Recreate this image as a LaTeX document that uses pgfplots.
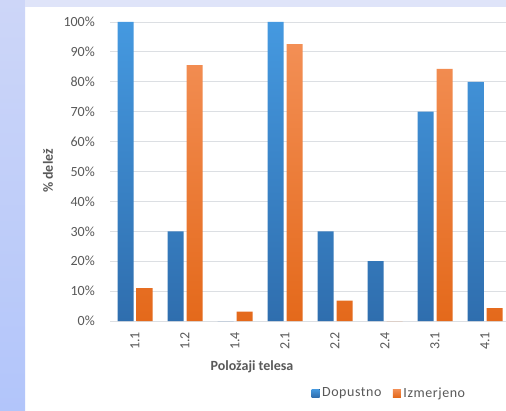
\documentclass[border=0pt]{standalone}
\usepackage{fontspec}
\setmainfont{Carlito}
\usepackage{pgfplots}
\pgfplotsset{compat=1.18}
\definecolor{txt}{HTML}{595959}
\definecolor{gridc}{HTML}{DCDFE3}
\definecolor{bluetop}{HTML}{4599E0}
\definecolor{bluebot}{HTML}{2F6EAE}
\definecolor{orgtop}{HTML}{F38F55}
\definecolor{orgbot}{HTML}{E4691B}
\definecolor{bgtop}{HTML}{CDD6F8}
\definecolor{bgbot}{HTML}{B2C5FA}
\definecolor{bgstrip}{HTML}{DFE4F9}
\begin{document}
\begin{tikzpicture}
\useasboundingbox (0pt,0pt) rectangle (506pt,410pt);
\clip (0pt,0pt) rectangle (506pt,410pt);
\fill[white] (0pt,0pt) rectangle (506pt,410pt);
\shade[top color=bgtop, bottom color=bgbot] (0pt,0pt) rectangle (25pt,410pt);
\fill[bgstrip] (25pt,403pt) rectangle (506pt,410pt);
\begin{axis}[
  at={(110pt,89pt)}, anchor=south west,
  scale only axis, width=400pt, height=299pt,
  xmin=-0.5, xmax=7.5, ymin=0, ymax=100,
  ybar=3pt, bar width=16pt,
  axis line style={draw=none},
  major tick length=0pt,
  ymajorgrids, grid style={gridc, line width=0.8pt},
  xtick={0,1,2,3,4,5,6,7},
  xticklabels={1.1,1.2,1.4,2.1,2.2,2.4,3.1,4.1},
  ytick={0,10,20,30,40,50,60,70,80,90,100},
  yticklabels={0\%,10\%,20\%,30\%,40\%,50\%,60\%,70\%,80\%,90\%,100\%},
  ticklabel style={font=\fontsize{14}{16}\selectfont, text=txt},
  xticklabel style={yshift=-11pt, rotate=90, anchor=east, inner sep=0pt},
  yticklabel style={xshift=-15pt, anchor=east, inner sep=0pt},
  legend style={draw=none, fill=none, at={(0.699,-0.241)}, anchor=center,
    font=\fontsize{14}{15}\selectfont\addfontfeatures{LetterSpace=4}, text=txt,
    nodes={inner sep=2.5pt},
    /tikz/every even column/.append style={column sep=9pt}},
  legend columns=2,
  legend image code/.code={\fill[#1] (0pt,-4pt) rectangle (8pt,4pt);},
]
\addplot[draw=none, top color=bluetop, bottom color=bluebot] coordinates {
  (0,100) (1,30) (2,0) (3,100) (4,30) (5,20) (6,70) (7,80)};
\addplot[draw=none, top color=orgtop, bottom color=orgbot] coordinates {
  (0,11) (1,85.6) (2,3.1) (3,92.6) (4,6.8) (5,0) (6,84.3) (7,4.3)};
\legend{Dopustno,Izmerjeno}
\end{axis}
\node[rotate=90, text=txt, font=\fontsize{14}{16}\selectfont\bfseries] at (48pt,239pt) {\% delež};
\node[text=txt, font=\fontsize{14}{16}\selectfont\bfseries] at (252pt,43pt) {Položaji telesa};
\end{tikzpicture}
\end{document}
